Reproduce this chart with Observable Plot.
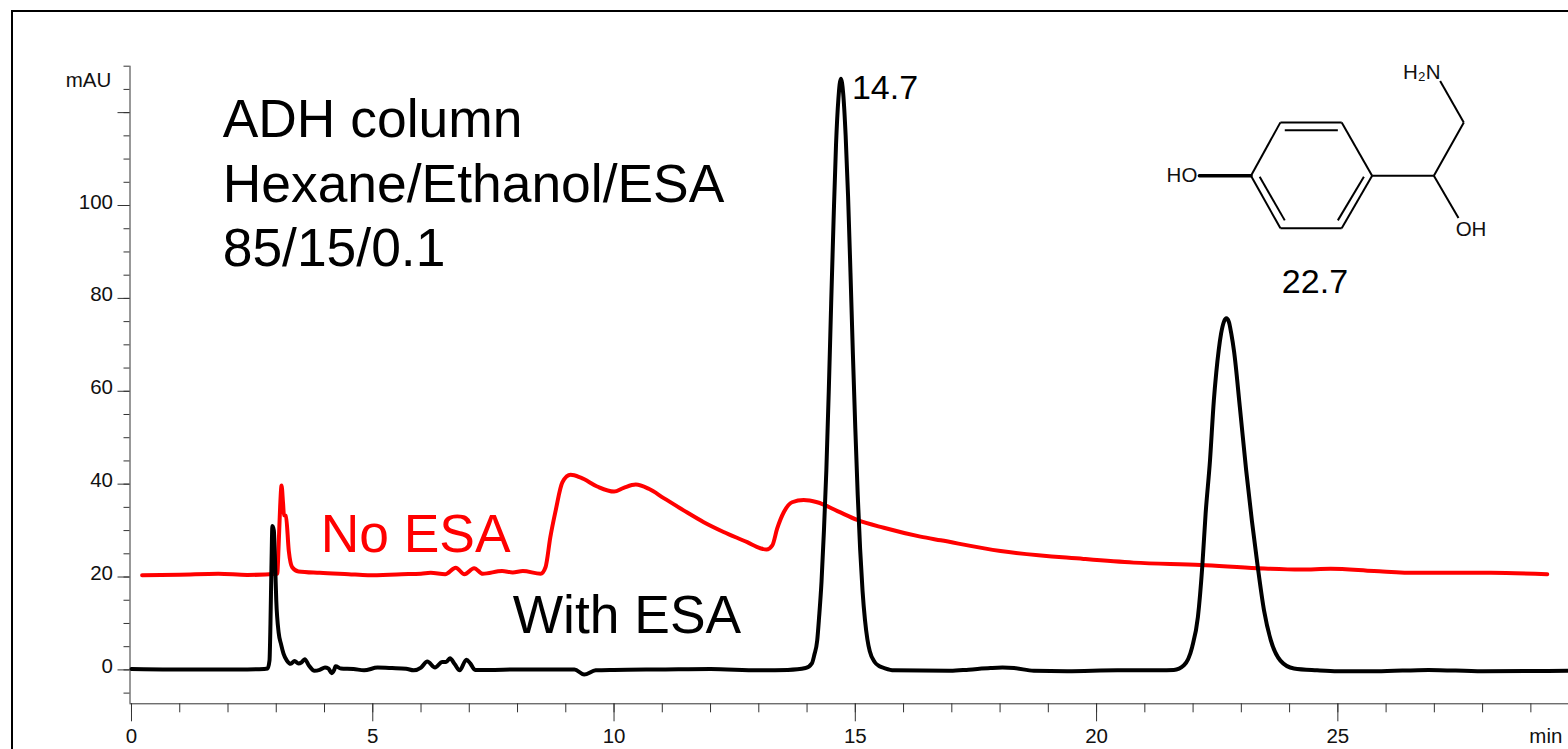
<!DOCTYPE html>
<html>
<head>
<meta charset="utf-8">
<script src="https://cdn.jsdelivr.net/npm/d3@7"></script>
<script src="https://cdn.jsdelivr.net/npm/@observablehq/plot@0.6"></script>
<style>
  html, body { margin: 0; padding: 0; background: #fff; overflow: hidden; width: 1568px; height: 749px; }
  #chart { position: absolute; left: 0; top: 0; }
  #border { position: absolute; left: 11px; top: 10px; width: 1600px; height: 800px; border: 2.5px solid #000; }
</style>
</head>
<body>
<div id="border"></div>
<div id="chart"></div>
<script>
// With ESA trace: retention time (min)
const withTime = [0,0.8,1.6,2.4,2.75,2.82,2.86,2.88,2.9,2.92,2.95,2.97,3.0,3.05,3.1,3.15,3.22,3.3,3.38,3.46,3.52,3.59,3.68,3.79,3.9,4.01,4.08,4.15,4.2,4.23,4.34,4.6,4.82,5.1,5.4,5.69,5.85,6.0,6.13,6.29,6.44,6.52,6.6,6.7,6.8,6.94,7.02,7.12,7.4,8,8.6,9.18,9.38,9.62,10,11,12,13,13.6,13.97,14.1,14.15,14.21,14.25,14.3,14.35,14.4,14.45,14.5,14.55,14.6,14.65,14.7,14.75,14.8,14.85,14.9,14.95,15.0,15.05,15.1,15.15,15.2,15.25,15.3,15.4,15.5,15.6,15.8,16.97,17.35,17.8,18.05,18.29,18.7,19.39,20.43,21.3,21.6,21.81,21.98,22.1,22.19,22.26,22.35,22.43,22.48,22.53,22.58,22.64,22.69,22.74,22.79,22.85,22.97,23.1,23.22,23.34,23.47,23.61,23.81,24.09,24.57,25,25.8,26.88,28,29.8];
// With ESA trace: absorbance (mAU)
const withSignal = [0.2,0.1,0.1,0.1,0.2,0.3,2,10,22,31,30,25,15,8,5.5,3.5,2,1.3,1.9,1.4,1.6,2.3,0.9,-0.2,0,0.5,0.3,-0.7,0,0.8,0.3,0.2,-0.1,0.5,0.4,0.25,-0.1,0.5,1.8,0.5,1.7,1.7,2.5,1.2,-0.1,2.2,1.4,0,0,0.1,0.1,0.1,-1,-0.1,0,0.1,0.2,-0.1,0,0.4,1.4,3.2,6.3,11.4,19,30,43,60,79,97,113,123,127.3,124,115,102,85.5,68,52,37.7,26,17,10.8,6.6,4,1.7,0.8,0.4,-0.1,-0.2,0.05,0.4,0.5,0.4,-0.2,-0.3,-0.1,-0.1,0,1,4.9,11.4,22.2,33.7,45,58,64,68.8,72.4,75,75.7,75,72.5,68.5,56.5,43,32,22.2,12.8,6.4,2,0.3,-0.1,-0.3,-0.3,0,-0.3,-0.2];
// No ESA trace: retention time (min)
const noTime = [0.22,1,1.8,2.4,3.02,3.05,3.08,3.11,3.14,3.16,3.2,3.26,3.33,3.46,3.9,4.5,4.9,5.6,6.0,6.2,6.5,6.72,6.9,7.1,7.28,7.68,7.9,8.11,8.48,8.58,8.68,8.79,8.93,9.1,9.31,9.65,10.0,10.2,10.45,10.72,11.03,11.45,11.86,12.27,12.76,13.03,13.16,13.28,13.38,13.52,13.69,13.93,14.21,14.63,15.04,15.59,16.35,16.77,18.01,19.73,20.77,22.16,23.33,24.23,24.85,25.75,26.65,28.17,29.34];
// No ESA trace: absorbance (mAU)
const noSignal = [20.4,20.5,20.7,20.45,20.7,27,35,39.7,36,33.3,33.2,25.6,22.1,21.2,20.9,20.6,20.4,20.6,20.7,20.9,20.6,22,20.6,21.9,20.7,21.3,21,21.3,20.7,22.1,28.6,34.3,40.4,42,41.4,39.5,38.4,39.2,39.9,39,37,34.3,31.8,29.7,27.5,26.2,25.9,26.8,30.4,34,36.1,36.6,36.1,34.2,32.3,30.6,28.7,27.9,25.6,23.9,23.1,22.6,21.9,21.6,21.8,21.3,20.9,20.9,20.6];

// Axis ticks
const xTicksMinor = d3.range(0, 30, 1);
const xTicksMajor = [0, 5, 10, 15, 20, 25];
const yTicksMinor = d3.range(-5, 131, 5);
const yTicksMajor = [0, 20, 40, 60, 80, 100, 120];
const yTicksLabelled = [0, 20, 40, 60, 80, 100];

// Annotations
const headline = ["ADH column", "Hexane/Ethanol/ESA", "85/15/0.1"];
const headlineX = [1.89, 1.89, 1.89];
const headlineY = [118.5, 104.5, 90.7];
const peakLabels = ["14.7", "22.7"];
const peakX = [14.93, 23.84];
const peakY = [125.2, 83.6];
const unitLabels = ["mAU", "min"];

// Structure of the analyte, drawn in chart units
const bondX1 = [23.20,23.81,25.08,25.71,25.08,23.81,25.71,26.99,27.61,26.99,23.90,23.38,25.54];
const bondY1 = [106.4,117.9,117.9,106.4,95.1,95.1,106.4,106.4,117.9,106.4,116.2,106.2,106.2];
const bondX2 = [23.81,25.08,25.71,25.08,23.81,23.20,26.99,27.61,27.12,27.50,25.00,23.90,25.00];
const bondY2 = [117.9,117.9,106.4,95.1,95.1,106.4,106.4,117.9,126.8,97.3,116.2,96.8,96.8];
const heavyBondX = [22.13, 23.20];
const heavyBondY = [106.4, 106.4];
const atomLabels = ["H₂N", "HO", "OH"];
const atomX = [26.74, 21.77, 27.76];
const atomY = [128.7, 106.4, 94.8];

const withRows = withTime.map((t, i) => ({t, v: withSignal[i]}));
const noRows = noTime.map((t, i) => ({t, v: noSignal[i]}));
const bonds = bondX1.map((x, i) => ({x1: x, y1: bondY1[i], x2: bondX2[i], y2: bondY2[i]}));
const xMin = -0.031, xMax = 29.78, yMin = -7.3, yMax = 130;
const ink = "#333";

const chart = Plot.plot({
  width: 1568,
  height: 749,
  marginLeft: 129.5,
  marginRight: 0,
  marginTop: 65.7,
  marginBottom: 45.7,
  x: {domain: [xMin, xMax], range: [129.5, 1568], label: null},
  y: {domain: [yMin, yMax], range: [703.3, 65.7], label: null},
  style: {fontFamily: "'Liberation Sans', Arial, sans-serif", fontSize: "20px", background: "transparent", color: "#111"},
  marks: [
    Plot.ruleX([xMin], {y1: yMin, y2: yMax, stroke: ink}),
    Plot.ruleY([yMin], {x1: xMin, x2: xMax, stroke: ink}),
    Plot.axisX({ticks: xTicksMinor, tickSize: 9, fill: "none", stroke: ink, label: null}),
    Plot.axisX({ticks: xTicksMajor, tickSize: 18, fill: "none", stroke: ink, label: null}),
    Plot.axisX({ticks: xTicksMajor, tickSize: 0, tickPadding: 25, stroke: "none", fill: "#111", label: null, tickFormat: d3.format("d"), fontSize: 20.5}),
    Plot.axisY({ticks: yTicksMinor, tickSize: 6, fill: "none", stroke: ink, label: null}),
    Plot.axisY({ticks: yTicksMajor, tickSize: 12, fill: "none", stroke: ink, label: null}),
    Plot.axisY({ticks: yTicksLabelled, tickSize: 0, tickPadding: 17, stroke: "none", fill: "#111", label: null, tickFormat: d3.format("d"), dy: -3.5, fontSize: 20.5}),
    Plot.text([unitLabels[0]], {x: () => -0.42, y: () => 126.9, text: d => d, textAnchor: "end", fontSize: 20.5, fill: "#111"}),
    Plot.text([unitLabels[1]], {x: () => 29.31, y: () => -14.4, text: d => d, fontSize: 20.5, fill: "#111"}),

    Plot.line(noRows, {x: "t", y: "v", stroke: "#ff0000", strokeWidth: 4, curve: "monotone-x"}),
    Plot.line(withRows, {x: "t", y: "v", stroke: "#000", strokeWidth: 4, curve: "monotone-x"}),

    Plot.text(headline, {x: (d, i) => headlineX[i], y: (d, i) => headlineY[i], text: d => d, textAnchor: "start", fontSize: 53.4, fill: "#000"}),
    Plot.text(["No ESA"], {x: () => 3.92, y: () => 29, text: d => d, textAnchor: "start", fontSize: 53.4, fill: "#ff0000"}),
    Plot.text(["With ESA"], {x: () => 7.9, y: () => 11.7, text: d => d, textAnchor: "start", fontSize: 53.4, fill: "#000"}),
    Plot.text(peakLabels, {x: (d, i) => peakX[i], y: (d, i) => peakY[i], text: d => d, textAnchor: "start", fontSize: 34, fill: "#000"}),

    Plot.link(bonds, {x1: "x1", y1: "y1", x2: "x2", y2: "y2", stroke: "#000", strokeWidth: 2}),
    Plot.line(heavyBondX.map((x, i) => ({x, y: heavyBondY[i]})), {x: "x", y: "y", stroke: "#000", strokeWidth: 3.4}),
    Plot.text(atomLabels, {x: (d, i) => atomX[i], y: (d, i) => atomY[i], text: d => d, fontSize: 20.5, fill: "#111"})
  ]
});
document.getElementById("chart").append(chart);
</script>
</body>
</html>
